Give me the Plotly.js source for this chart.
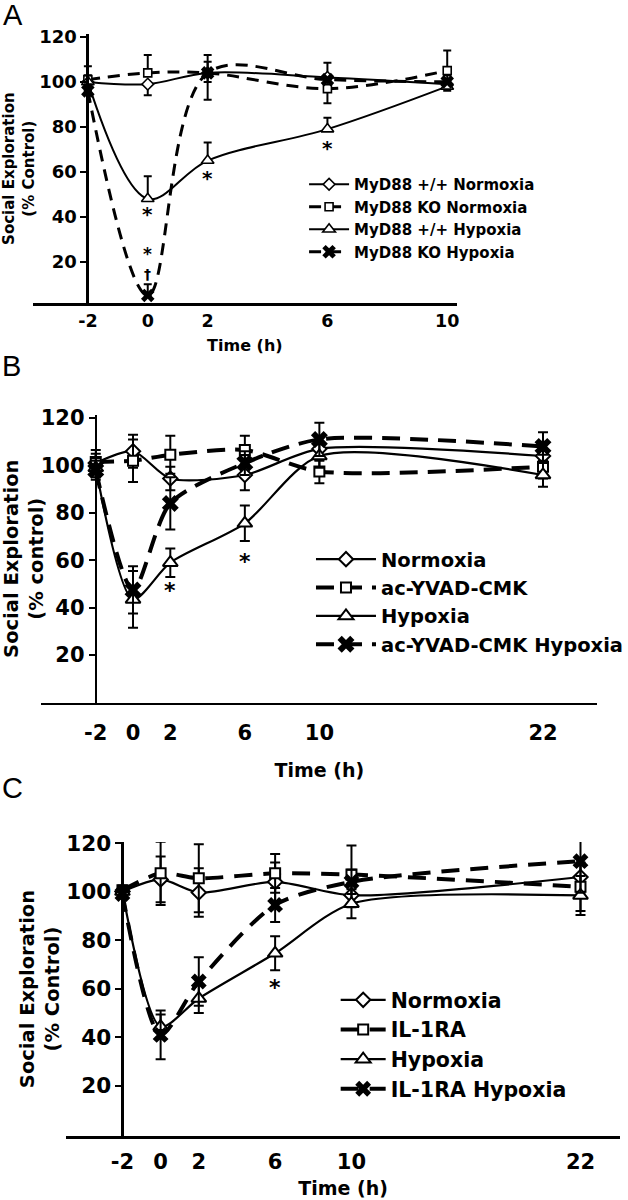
<!DOCTYPE html>
<html><head><meta charset="utf-8">
<script src="https://cdn.plot.ly/plotly-3.0.1.min.js"></script>
<style>html,body{margin:0;padding:0;background:#fff;overflow:hidden}</style>
</head><body><div id="chart" style="width:628px;height:1200px"></div>
<script>
// ---------- Panel A ----------
const timeA = [-2, 0, 2, 6, 10];
const namesA = ['MyD88 +/+ Normoxia', 'MyD88 KO Normoxia', 'MyD88 +/+ Hypoxia', 'MyD88 KO Hypoxia'];
const aWtNormoxia = [100, 99, 104, 102, 99];
const aWtNormoxiaErrUp = [0, 0, 0, 6.5, 0];
const aWtNormoxiaErrDown = [4, 5, 4, 0, 3];
const aKoNormoxia = [101, 104, 104, 97, 105];
const aKoNormoxiaErrUp = [6, 8, 8, 0, 9];
const aKoNormoxiaErrDown = [0, 0, 12, 6.5, 0];
const aWtHypoxia = [100, 48, 65, 79, 98];
const aWtHypoxiaErrUp = [3, 10, 8, 5, 2];
const aWtHypoxiaErrDown = [0, 0, 0, 0, 0];
const aKoHypoxia = [96, 5, 104, 101, 100];
const aKoHypoxiaErrUp = [3, 5, 5, 0, 3];
const aKoHypoxiaErrDown = [0, 0, 0, 0, 0];
const ticksA = [-2, 0, 2, 6, 10];

// ---------- Panel B ----------
const timeB = [-2, 0, 2, 6, 10, 22];
const namesB = ['Normoxia', 'ac-YVAD-CMK', 'Hypoxia', 'ac-YVAD-CMK Hypoxia'];
const bNormoxia = [101, 106, 94.5, 96, 107, 104];
const bNormoxiaErr = [4, 7, 5, 6.5, 5, 6];
const bYvad = [101.5, 102, 104.5, 106.5, 97.5, 99.5];
const bYvadErr = [5, 9, 8, 6, 5, 5];
const bHypoxia = [99, 43.5, 59, 75.6, 104, 96];
const bHypoxiaErr = [4, 12, 6, 7.5, 5, 5];
const bYvadHypoxia = [98, 47.5, 84, 101, 111, 108];
const bYvadHypoxiaErr = [4, 10, 11, 5, 7, 6];
const ticksB = [-2, 0, 2, 6, 10, 22];

// ---------- Panel C ----------
const timeC = [-2, 0, 2, 6, 10, 22];
const namesC = ['Normoxia', 'IL-1RA', 'Hypoxia', 'IL-1RA Hypoxia'];
const cNormoxia = [100, 105, 99.6, 104, 98.5, 106];
const cNormoxiaErr = [2, 9.4, 10, 8, 5, 5];
const cIl1ra = [100.5, 107.5, 105.5, 107.5, 107, 102];
const cIl1raErr = [2, 13, 14, 8, 12, 10];
const cHypoxia = [100, 44.4, 56, 74.6, 95, 98.4];
const cHypoxiaErr = [2, 5, 6, 7, 6, 8];
const cIl1raHypoxia = [99, 41, 63, 94.5, 104, 112.5];
const cIl1raHypoxiaErr = [2, 10, 10, 7, 5, 13];
const ticksC = [-2, 0, 2, 6, 10, 22];

const yTicks = [20, 40, 60, 80, 100, 120];
const FONT = 'DejaVu Sans';

function series(x, y, errUp, errDown, name, sym, dashed, ax, leg, sz) {
  const isX = sym === 'x';
  return {
    type: 'scatter', mode: 'lines+markers', x: x, y: y, name: name,
    xaxis: ax[0], yaxis: ax[1], legend: leg, cliponaxis: false,
    line: {color: '#000', width: dashed ? sz.dw : sz.lw, shape: 'spline', smoothing: sz.smooth,
           dash: dashed ? sz.dash : 'solid'},
    marker: {symbol: sym, size: sz[sym], color: isX ? '#000' : '#fff',
             line: {color: '#000', width: isX ? 0 : sz.mlw}},
    error_y: {type: 'data', symmetric: false, array: errUp, arrayminus: errDown, visible: true,
              color: '#000', thickness: 2, width: sz.cap}
  };
}

const szA = {diamond: 9, square: 8, 'triangle-up': 11, x: 12, lw: 2, dw: 3, dash: '12px,8px', mlw: 1.6, cap: 4, smooth: 1};
const szB = {diamond: 11, square: 10, 'triangle-up': 13, x: 15, lw: 2.2, dw: 4, dash: '18px,10px', mlw: 2, cap: 5, smooth: 0.75};
const szC = {diamond: 11, square: 10, 'triangle-up': 13, x: 14, lw: 2.2, dw: 4, dash: '18px,11px', mlw: 2, cap: 5, smooth: 0.75};

const data = [
  series(timeA, aWtNormoxia, aWtNormoxiaErrUp, aWtNormoxiaErrDown, namesA[0], 'diamond', false, ['x', 'y'], 'legend', szA),
  series(timeA, aKoNormoxia, aKoNormoxiaErrUp, aKoNormoxiaErrDown, namesA[1], 'square', true, ['x', 'y'], 'legend', szA),
  series(timeA, aWtHypoxia, aWtHypoxiaErrUp, aWtHypoxiaErrDown, namesA[2], 'triangle-up', false, ['x', 'y'], 'legend', szA),
  series(timeA, aKoHypoxia, aKoHypoxiaErrUp, aKoHypoxiaErrDown, namesA[3], 'x', true, ['x', 'y'], 'legend', szA),
  series(timeB, bNormoxia, bNormoxiaErr, bNormoxiaErr, namesB[0], 'diamond', false, ['x2', 'y2'], 'legend2', szB),
  series(timeB, bYvad, bYvadErr, bYvadErr, namesB[1], 'square', true, ['x2', 'y2'], 'legend2', szB),
  series(timeB, bHypoxia, bHypoxiaErr, bHypoxiaErr, namesB[2], 'triangle-up', false, ['x2', 'y2'], 'legend2', szB),
  series(timeB, bYvadHypoxia, bYvadHypoxiaErr, bYvadHypoxiaErr, namesB[3], 'x', true, ['x2', 'y2'], 'legend2', szB),
  series(timeC, cNormoxia, cNormoxiaErr, cNormoxiaErr, namesC[0], 'diamond', false, ['x3', 'y3'], 'legend3', szC),
  series(timeC, cIl1ra, cIl1raErr, cIl1raErr, namesC[1], 'square', true, ['x3', 'y3'], 'legend3', szC),
  series(timeC, cHypoxia, cHypoxiaErr, cHypoxiaErr, namesC[2], 'triangle-up', false, ['x3', 'y3'], 'legend3', szC),
  series(timeC, cIl1raHypoxia, cIl1raHypoxiaErr, cIl1raHypoxiaErr, namesC[3], 'x', true, ['x3', 'y3'], 'legend3', szC)
];

const W = 628, H = 1200;
const px = v => v / W;
const py = v => 1 - v / H;

function xAxis(domL, domR, range, ticks, tickSize, labelStandoff, titleSize, standoff, anchor) {
  return {
    domain: [px(domL), px(domR)], range: range, anchor: anchor,
    showline: true, linecolor: '#000', linewidth: 2.5, showgrid: false, zeroline: false,
    ticks: '', tickmode: 'array', tickvals: ticks, ticktext: ticks.map(String), ticklabelstandoff: labelStandoff,
    tickfont: {family: FONT, size: tickSize, color: '#000', weight: 'bold'},
    title: {text: 'Time (h)', standoff: standoff, font: {family: FONT, size: titleSize, color: '#000', weight: 'bold'}},
    automargin: false, fixedrange: true
  };
}
function yAxis(bottom, top, range, pos, tickSize, titleText, titleSize, standoff) {
  return {
    domain: [py(bottom), py(top)], range: range, anchor: 'free', position: px(pos),
    showline: true, linecolor: '#000', linewidth: 2.5, showgrid: false, zeroline: false,
    ticks: 'outside', ticklen: 6, tickwidth: 2, tickcolor: '#000',
    tickmode: 'array', tickvals: yTicks, ticktext: yTicks.map(String),
    tickfont: {family: FONT, size: tickSize, color: '#000', weight: 'bold'},
    title: {text: titleText, standoff: standoff, font: {family: FONT, size: titleSize, color: '#000', weight: 'bold'}},
    automargin: false, fixedrange: true
  };
}

function star(xref, yref, x, y, txt, size) {
  return {xref: xref, yref: yref, x: x, y: y, text: txt, showarrow: false,
          font: {family: FONT, size: size, color: '#000', weight: 'bold'}};
}
function letter(t, x, y) {
  return {xref: 'paper', yref: 'paper', x: px(x), y: py(y), xanchor: 'left', yanchor: 'middle',
          text: t, showarrow: false, font: {family: 'Liberation Sans', size: 29, color: '#000'}};
}

const layout = {
  width: W, height: H, margin: {l: 0, r: 0, t: 0, b: 0},
  paper_bgcolor: '#fff', plot_bgcolor: 'rgba(0,0,0,0)',
  font: {family: FONT, color: '#000'},
  xaxis: xAxis(33, 463, [-3.846, 10.33], ticksA, 17.5, 0, 16, 10, 'y'),
  yaxis: yAxis(303.3, 34, [1.5, 121.3], 88.5, 18, 'Social Exploration<br>(% Control)', 15, 0),
  xaxis2: xAxis(42, 605, [-4.914, 24.914], ticksB, 21, 10, 19, 20, 'y2'),
  yaxis2: yAxis(702.5, 415, [0, 121.3], 97, 21, 'Social Exploration<br>(% control)', 19.5, 1),
  xaxis3: xAxis(67, 628, [-4.95, 24.07], ticksC, 21, 5, 19, 9, 'y3'),
  yaxis3: yAxis(1136, 842, [-0.6, 120.4], 124, 21.5, 'Social Exploration<br>(% Control)', 19.5, 0),
  legend: {x: px(308), y: py(168), xanchor: 'left', yanchor: 'top', bgcolor: 'rgba(0,0,0,0)',
           itemwidth: 40, tracegroupgap: 0, font: {family: FONT, size: 15, color: '#000', weight: 'bold'}},
  legend2: {x: px(315), y: py(540), xanchor: 'left', yanchor: 'top', bgcolor: 'rgba(0,0,0,0)',
           itemwidth: 60, tracegroupgap: 0, font: {family: FONT, size: 19.5, color: '#000', weight: 'bold'}},
  legend3: {x: px(340), y: py(980), xanchor: 'left', yanchor: 'top', bgcolor: 'rgba(0,0,0,0)',
           itemwidth: 45, tracegroupgap: 0, font: {family: FONT, size: 20.5, color: '#000', weight: 'bold'}},
  showlegend: true,
  annotations: [
    letter('A', 1, 15), letter('B', 0, 366), letter('C', 0, 788),
    star('x', 'y', 0, 41.2, '*', 20), star('x', 'y', 2, 57.2, '*', 20), star('x', 'y', 6, 70.8, '*', 20),
    star('x', 'y', 0, 23.5, '*', 17), star('x', 'y', 0, 14.5, '†', 14),
    star('x2', 'y2', 2, 47.1, '*', 22), star('x2', 'y2', 6, 59.7, '*', 22),
    star('x3', 'y3', 6, 60.6, '*', 22)
  ]
};

Plotly.newPlot('chart', data, layout, {staticPlot: true, displayModeBar: false});
</script>
</body></html>
